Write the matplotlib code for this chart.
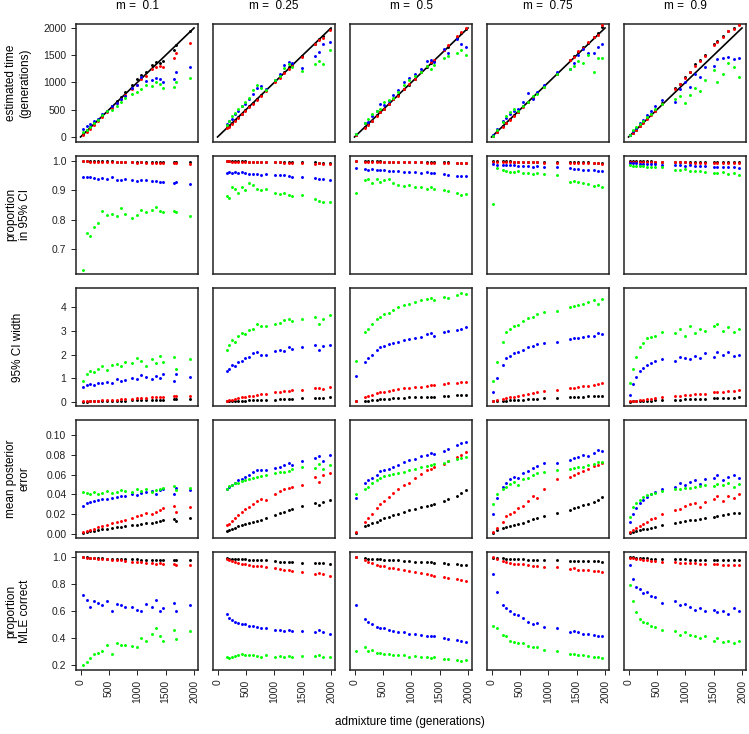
import matplotlib
matplotlib.use('Agg')
import matplotlib.pyplot as plt

plt.rcParams['font.family'] = ['Liberation Sans', 'DejaVu Sans']

W, H = 749, 734

m_values = ['0.1', '0.25', '0.5', '0.75', '0.9']
row_labels = ['estimated time\n(generations)', 'proportion\nin 95% CI', '95% CI width',
              'mean posterior\nerror', 'proportion\nMLE correct']
colors = ['black', '#FF0000', '#0000FF', '#00FF00']

# ---- admixture times (x) per column ----
t_m01 = [50, 110, 170, 230, 300, 380, 460, 550, 640, 720, 790, 910, 990, 1070, 1150, 1260, 1330, 1400, 1460, 1640, 1690, 1930]
t_m025 = [170, 200, 250, 300, 360, 430, 490, 560, 620, 690, 760, 850, 1020, 1100, 1180, 1260, 1320, 1490, 1720, 1790, 1860, 1980]
t_m05 = [30, 180, 230, 300, 400, 450, 520, 600, 680, 760, 880, 960, 1060, 1180, 1280, 1350, 1400, 1580, 1650, 1800, 1880, 1960]
t_m075 = [20, 100, 200, 260, 330, 400, 460, 550, 640, 730, 800, 930, 1150, 1380, 1450, 1530, 1620, 1700, 1800, 1880, 1950]
t_m09 = [30, 80, 130, 200, 260, 330, 400, 460, 590, 820, 900, 990, 1080, 1180, 1260, 1340, 1500, 1560, 1660, 1760, 1860, 1950]

# ---- m = 0.1 ----
est_m01_k = [60, 120, 180, 250, 310, 390, 480, 570, 660, 740, 830, 960, 1060, 1130, 1190, 1320, 1380, 1360, 1400, 1600, 1680, 1950]
est_m01_r = [40, 100, 150, 220, 290, 370, 450, 540, 620, 690, 770, 880, 950, 1060, 1120, 1240, 1290, 1310, 1280, 1450, 1540, 1720]
est_m01_b = [150, 210, 240, 290, 330, 420, 480, 560, 620, 700, 760, 890, 960, 1100, 1020, 1050, 1080, 1060, 1000, 1060, 1200, 1280]
est_m01_g = [90, 130, 190, 260, 320, 400, 470, 500, 570, 640, 720, 790, 830, 880, 960, 940, 1000, 980, 900, 920, 1000, 1080]
cov_m01_k = [1.0, 1.0, 1.0, 0.999, 1.0, 0.999, 0.999, 0.999, 0.998, 0.998, 0.998, 0.997, 0.997, 0.997, 0.996, 0.997, 0.996, 0.996, 0.996, 0.995, 0.995, 0.995]
cov_m01_r = [0.999, 0.999, 0.998, 0.998, 0.998, 0.998, 0.997, 0.997, 0.997, 0.996, 0.996, 0.995, 0.994, 0.995, 0.994, 0.994, 0.993, 0.994, 0.993, 0.992, 0.993, 0.991]
cov_m01_b = [0.946, 0.944, 0.945, 0.941, 0.94, 0.943, 0.938, 0.945, 0.937, 0.934, 0.939, 0.934, 0.931, 0.936, 0.935, 0.933, 0.931, 0.929, 0.928, 0.924, 0.927, 0.921]
cov_m01_g = [0.63, 0.755, 0.745, 0.775, 0.79, 0.83, 0.815, 0.82, 0.812, 0.84, 0.82, 0.808, 0.815, 0.835, 0.826, 0.835, 0.842, 0.83, 0.826, 0.83, 0.825, 0.812]
ciw_m01_k = [0.01, 0.01, 0.02, 0.02, 0.03, 0.03, 0.04, 0.05, 0.05, 0.06, 0.06, 0.07, 0.07, 0.08, 0.08, 0.09, 0.09, 0.1, 0.1, 0.11, 0.12, 0.12]
ciw_m01_r = [0.02, 0.03, 0.04, 0.05, 0.06, 0.07, 0.08, 0.09, 0.1, 0.11, 0.12, 0.13, 0.15, 0.16, 0.18, 0.19, 0.2, 0.21, 0.22, 0.24, 0.25, 0.26]
ciw_m01_b = [0.62, 0.72, 0.75, 0.7, 0.8, 0.78, 0.85, 0.82, 0.95, 0.88, 0.92, 1.0, 0.95, 1.15, 1.05, 0.95, 1.1, 1.0, 1.2, 0.9, 1.2, 1.05]
ciw_m01_g = [0.9, 1.2, 1.3, 1.25, 1.4, 1.5, 1.35, 1.55, 1.6, 1.5, 1.7, 1.65, 1.85, 1.75, 1.5, 1.8, 1.65, 1.95, 1.7, 1.9, 1.4, 1.8]
err_m01_k = [0.001, 0.002, 0.003, 0.003, 0.004, 0.005, 0.005, 0.006, 0.007, 0.007, 0.008, 0.009, 0.009, 0.01, 0.011, 0.011, 0.012, 0.013, 0.014, 0.015, 0.013, 0.016]
err_m01_r = [0.002, 0.003, 0.004, 0.005, 0.007, 0.008, 0.009, 0.011, 0.012, 0.013, 0.014, 0.016, 0.018, 0.019, 0.021, 0.02, 0.022, 0.024, 0.026, 0.028, 0.022, 0.027]
err_m01_b = [0.028, 0.031, 0.032, 0.033, 0.034, 0.035, 0.035, 0.036, 0.037, 0.038, 0.038, 0.04, 0.039, 0.041, 0.042, 0.043, 0.04, 0.044, 0.045, 0.04, 0.047, 0.044]
err_m01_g = [0.042, 0.041, 0.04, 0.042, 0.04, 0.041, 0.043, 0.041, 0.042, 0.044, 0.043, 0.042, 0.045, 0.043, 0.046, 0.042, 0.044, 0.045, 0.047, 0.049, 0.044, 0.047]
mle_m01_k = [1.0, 0.998, 0.995, 0.993, 0.99, 0.99, 0.988, 0.987, 0.986, 0.985, 0.985, 0.984, 0.982, 0.981, 0.98, 0.98, 0.979, 0.979, 0.978, 0.977, 0.976, 0.975]
mle_m01_r = [0.998, 0.996, 0.994, 0.99, 0.988, 0.985, 0.982, 0.98, 0.977, 0.975, 0.972, 0.966, 0.962, 0.96, 0.957, 0.955, 0.95, 0.952, 0.947, 0.945, 0.942, 0.94]
mle_m01_b = [0.72, 0.68, 0.63, 0.67, 0.66, 0.64, 0.67, 0.6, 0.65, 0.64, 0.63, 0.63, 0.61, 0.6, 0.65, 0.63, 0.68, 0.6, 0.62, 0.66, 0.6, 0.64]
mle_m01_g = [0.2, 0.22, 0.25, 0.28, 0.29, 0.3, 0.35, 0.28, 0.36, 0.35, 0.35, 0.34, 0.33, 0.4, 0.38, 0.43, 0.47, 0.41, 0.38, 0.46, 0.39, 0.45]

# ---- m = 0.25 ----
est_m025_k = [180, 210, 260, 310, 370, 430, 500, 560, 630, 700, 770, 860, 1020, 1110, 1200, 1290, 1330, 1480, 1710, 1800, 1850, 1990]
est_m025_r = [160, 190, 240, 290, 350, 420, 480, 550, 610, 680, 750, 840, 1010, 1090, 1170, 1250, 1310, 1470, 1700, 1780, 1820, 1960]
est_m025_b = [240, 290, 330, 420, 470, 560, 610, 700, 790, 900, 930, 880, 1040, 1150, 1320, 1380, 1350, 1260, 1480, 1560, 1700, 1740]
est_m025_g = [220, 300, 380, 440, 520, 560, 650, 720, 860, 950, 900, 870, 1050, 1120, 1260, 1330, 1290, 1210, 1340, 1400, 1330, 1600]
cov_m025_k = [1.0, 1.0, 0.999, 0.999, 0.999, 0.999, 0.999, 0.998, 0.998, 0.998, 0.998, 0.997, 0.997, 0.997, 0.996, 0.996, 0.996, 0.995, 0.995, 0.994, 0.994, 0.994]
cov_m025_r = [0.999, 0.999, 0.998, 0.998, 0.998, 0.998, 0.997, 0.997, 0.997, 0.997, 0.996, 0.996, 0.995, 0.995, 0.994, 0.994, 0.994, 0.992, 0.991, 0.992, 0.99, 0.99]
cov_m025_b = [0.96, 0.961, 0.958, 0.962, 0.958, 0.963, 0.959, 0.957, 0.956, 0.955, 0.953, 0.955, 0.954, 0.953, 0.952, 0.95, 0.946, 0.944, 0.941, 0.94, 0.94, 0.935]
cov_m025_g = [0.88, 0.875, 0.91, 0.905, 0.89, 0.91, 0.9, 0.925, 0.918, 0.905, 0.9, 0.905, 0.89, 0.888, 0.892, 0.885, 0.882, 0.886, 0.872, 0.865, 0.86, 0.862]
ciw_m025_k = [0.02, 0.03, 0.03, 0.04, 0.05, 0.05, 0.06, 0.07, 0.07, 0.08, 0.08, 0.09, 0.1, 0.11, 0.12, 0.12, 0.13, 0.15, 0.17, 0.18, 0.18, 0.2]
ciw_m025_r = [0.05, 0.08, 0.1, 0.13, 0.15, 0.19, 0.21, 0.24, 0.27, 0.3, 0.32, 0.35, 0.4, 0.43, 0.46, 0.48, 0.5, 0.52, 0.57, 0.6, 0.55, 0.62]
ciw_m025_b = [1.3, 1.4, 1.55, 1.5, 1.7, 1.75, 1.85, 1.9, 2.05, 2.1, 2.0, 2.0, 2.15, 2.2, 2.15, 2.3, 2.25, 2.3, 2.4, 2.2, 2.35, 2.42]
ciw_m025_g = [2.2, 2.4, 2.6, 2.55, 2.8, 2.9, 2.85, 3.05, 3.1, 3.3, 3.2, 3.2, 3.3, 3.35, 3.45, 3.5, 3.4, 3.5, 3.6, 3.3, 3.5, 3.65]
err_m025_k = [0.003, 0.004, 0.005, 0.006, 0.008, 0.009, 0.01, 0.011, 0.012, 0.013, 0.014, 0.016, 0.019, 0.021, 0.022, 0.024, 0.025, 0.028, 0.031, 0.029, 0.032, 0.034]
err_m025_r = [0.009, 0.01, 0.013, 0.016, 0.019, 0.022, 0.025, 0.027, 0.03, 0.033, 0.035, 0.034, 0.04, 0.043, 0.045, 0.047, 0.048, 0.05, 0.058, 0.053, 0.06, 0.062]
err_m025_b = [0.045, 0.048, 0.05, 0.052, 0.055, 0.056, 0.058, 0.06, 0.063, 0.065, 0.065, 0.065, 0.067, 0.068, 0.07, 0.072, 0.07, 0.074, 0.077, 0.079, 0.074, 0.08]
err_m025_g = [0.046, 0.049, 0.05, 0.052, 0.052, 0.054, 0.055, 0.056, 0.057, 0.058, 0.059, 0.06, 0.062, 0.063, 0.063, 0.064, 0.066, 0.068, 0.067, 0.071, 0.066, 0.07]
mle_m025_k = [0.99, 0.988, 0.985, 0.984, 0.983, 0.982, 0.982, 0.98, 0.979, 0.978, 0.976, 0.974, 0.968, 0.966, 0.964, 0.963, 0.962, 0.958, 0.955, 0.956, 0.954, 0.95]
mle_m025_r = [0.985, 0.975, 0.97, 0.96, 0.955, 0.95, 0.945, 0.94, 0.935, 0.932, 0.93, 0.925, 0.915, 0.91, 0.905, 0.9, 0.898, 0.885, 0.875, 0.88, 0.87, 0.86]
mle_m025_b = [0.575, 0.55, 0.53, 0.52, 0.51, 0.505, 0.5, 0.49, 0.485, 0.48, 0.47, 0.475, 0.46, 0.46, 0.45, 0.455, 0.45, 0.45, 0.44, 0.46, 0.44, 0.425]
mle_m025_g = [0.26, 0.25, 0.26, 0.265, 0.27, 0.28, 0.27, 0.275, 0.27, 0.265, 0.26, 0.27, 0.26, 0.265, 0.26, 0.265, 0.255, 0.265, 0.265, 0.275, 0.26, 0.255]

# ---- m = 0.5 ----
est_m05_k = [30, 180, 230, 300, 400, 460, 520, 600, 690, 770, 880, 960, 1060, 1190, 1290, 1360, 1400, 1590, 1660, 1820, 1900, 1990]
est_m05_r = [30, 170, 220, 300, 390, 450, 520, 610, 690, 760, 880, 970, 1060, 1200, 1300, 1370, 1420, 1600, 1680, 1850, 1930, 2000]
est_m05_b = [60, 250, 280, 380, 480, 600, 580, 660, 770, 860, 1000, 1080, 1150, 1250, 1400, 1420, 1380, 1620, 1550, 1800, 1700, 1650]
est_m05_g = [50, 260, 330, 420, 480, 520, 640, 680, 720, 820, 950, 1050, 1120, 1200, 1300, 1250, 1320, 1450, 1480, 1550, 1600, 1500]
cov_m05_k = [1.0, 1.0, 0.999, 0.999, 0.999, 0.999, 0.998, 0.998, 0.998, 0.998, 0.997, 0.997, 0.997, 0.996, 0.996, 0.996, 0.995, 0.995, 0.995, 0.994, 0.994, 0.994]
cov_m05_r = [0.999, 0.998, 0.998, 0.998, 0.997, 0.998, 0.997, 0.997, 0.996, 0.996, 0.996, 0.995, 0.995, 0.995, 0.994, 0.994, 0.994, 0.993, 0.993, 0.992, 0.992, 0.992]
cov_m05_b = [0.975, 0.974, 0.97, 0.973, 0.97, 0.968, 0.969, 0.966, 0.967, 0.965, 0.963, 0.962, 0.964, 0.96, 0.961, 0.958, 0.958, 0.955, 0.954, 0.95, 0.948, 0.949]
cov_m05_g = [0.89, 0.935, 0.94, 0.925, 0.938, 0.93, 0.935, 0.94, 0.925, 0.92, 0.915, 0.92, 0.912, 0.91, 0.905, 0.912, 0.905, 0.9, 0.898, 0.89, 0.885, 0.888]
ciw_m05_k = [0.02, 0.05, 0.06, 0.08, 0.1, 0.11, 0.12, 0.13, 0.15, 0.16, 0.18, 0.19, 0.2, 0.21, 0.22, 0.23, 0.23, 0.26, 0.26, 0.28, 0.29, 0.3]
ciw_m05_r = [0.05, 0.2, 0.25, 0.3, 0.36, 0.4, 0.44, 0.47, 0.5, 0.53, 0.58, 0.6, 0.62, 0.65, 0.68, 0.7, 0.71, 0.75, 0.78, 0.81, 0.83, 0.86]
ciw_m05_b = [1.1, 1.7, 1.85, 2.0, 2.2, 2.3, 2.35, 2.45, 2.5, 2.55, 2.6, 2.65, 2.7, 2.75, 2.85, 2.9, 2.8, 2.95, 3.0, 3.05, 3.1, 3.15]
ciw_m05_g = [1.75, 2.95, 3.1, 3.3, 3.5, 3.6, 3.7, 3.75, 3.9, 4.0, 4.1, 4.15, 4.2, 4.3, 4.35, 4.4, 4.3, 4.45, 4.4, 4.5, 4.6, 4.55]
err_m05_k = [0.001, 0.008, 0.009, 0.011, 0.012, 0.014, 0.016, 0.017, 0.019, 0.02, 0.022, 0.024, 0.025, 0.027, 0.028, 0.029, 0.03, 0.033, 0.035, 0.038, 0.041, 0.044]
err_m05_r = [0.002, 0.012, 0.016, 0.02, 0.026, 0.03, 0.033, 0.037, 0.041, 0.045, 0.05, 0.052, 0.057, 0.061, 0.065, 0.066, 0.068, 0.071, 0.074, 0.078, 0.08, 0.083]
err_m05_b = [0.036, 0.052, 0.055, 0.057, 0.06, 0.064, 0.065, 0.066, 0.068, 0.07, 0.073, 0.075, 0.076, 0.079, 0.08, 0.082, 0.081, 0.084, 0.086, 0.09, 0.092, 0.093]
err_m05_g = [0.04, 0.045, 0.048, 0.052, 0.055, 0.057, 0.059, 0.06, 0.061, 0.062, 0.063, 0.065, 0.066, 0.068, 0.069, 0.07, 0.071, 0.072, 0.074, 0.076, 0.077, 0.078]
mle_m05_k = [1.0, 0.99, 0.988, 0.987, 0.984, 0.982, 0.98, 0.978, 0.976, 0.974, 0.97, 0.968, 0.966, 0.964, 0.962, 0.96, 0.958, 0.952, 0.95, 0.946, 0.944, 0.94]
mle_m05_r = [1.0, 0.975, 0.965, 0.955, 0.94, 0.935, 0.93, 0.92, 0.915, 0.91, 0.9, 0.895, 0.89, 0.88, 0.87, 0.865, 0.862, 0.85, 0.845, 0.835, 0.83, 0.82]
mle_m05_b = [0.64, 0.54, 0.52, 0.5, 0.48, 0.475, 0.47, 0.46, 0.45, 0.445, 0.44, 0.43, 0.425, 0.42, 0.415, 0.41, 0.41, 0.4, 0.39, 0.385, 0.38, 0.37]
mle_m05_g = [0.3, 0.33, 0.3, 0.31, 0.29, 0.29, 0.28, 0.28, 0.27, 0.275, 0.27, 0.26, 0.265, 0.26, 0.255, 0.25, 0.255, 0.245, 0.24, 0.235, 0.23, 0.235]

# ---- m = 0.75 ----
est_m075_k = [20, 100, 200, 260, 330, 400, 460, 560, 650, 730, 810, 940, 1160, 1420, 1480, 1560, 1650, 1720, 1830, 1900, 2020]
est_m075_r = [20, 90, 190, 260, 320, 390, 450, 550, 640, 720, 800, 920, 1150, 1420, 1470, 1570, 1640, 1740, 1840, 1880, 2050]
est_m075_b = [30, 150, 300, 340, 420, 480, 520, 650, 800, 700, 820, 960, 1200, 1250, 1350, 1500, 1620, 1550, 1550, 1650, 1700]
est_m075_g = [20, 130, 280, 380, 450, 520, 470, 560, 650, 760, 780, 920, 1150, 1250, 1300, 1400, 1350, 1500, 1200, 1450, 1450]
cov_m075_k = [1.0, 0.999, 0.999, 0.999, 0.999, 0.998, 0.998, 0.998, 0.998, 0.997, 0.997, 0.997, 0.996, 0.996, 0.996, 0.995, 0.995, 0.995, 0.994, 0.994, 0.994]
cov_m075_r = [0.997, 0.998, 0.997, 0.997, 0.996, 0.996, 0.996, 0.995, 0.996, 0.995, 0.995, 0.994, 0.994, 0.994, 0.993, 0.993, 0.993, 0.992, 0.992, 0.992, 0.991]
cov_m075_b = [0.99, 0.988, 0.987, 0.985, 0.986, 0.985, 0.983, 0.984, 0.983, 0.981, 0.982, 0.98, 0.98, 0.975, 0.972, 0.974, 0.97, 0.971, 0.968, 0.967, 0.966]
cov_m075_g = [0.853, 0.975, 0.968, 0.965, 0.964, 0.962, 0.965, 0.96, 0.958, 0.955, 0.96, 0.957, 0.953, 0.93, 0.932, 0.928, 0.925, 0.922, 0.915, 0.918, 0.912]
ciw_m075_k = [0.02, 0.04, 0.05, 0.06, 0.07, 0.08, 0.09, 0.1, 0.11, 0.12, 0.13, 0.15, 0.17, 0.2, 0.21, 0.22, 0.23, 0.24, 0.25, 0.26, 0.27]
ciw_m075_r = [0.03, 0.08, 0.12, 0.16, 0.2, 0.23, 0.26, 0.3, 0.34, 0.37, 0.4, 0.45, 0.5, 0.58, 0.6, 0.63, 0.66, 0.69, 0.72, 0.75, 0.78]
ciw_m075_b = [0.4, 1.0, 1.55, 1.85, 1.95, 2.05, 2.1, 2.2, 2.3, 2.35, 2.45, 2.5, 2.55, 2.65, 2.7, 2.72, 2.75, 2.78, 2.8, 2.9, 2.85]
ciw_m075_g = [0.9, 1.7, 2.55, 2.95, 3.1, 3.2, 3.25, 3.4, 3.55, 3.6, 3.7, 3.8, 3.85, 4.0, 4.05, 4.1, 4.15, 4.2, 4.3, 4.15, 4.35]
err_m075_k = [0.001, 0.004, 0.006, 0.007, 0.008, 0.009, 0.01, 0.011, 0.013, 0.015, 0.016, 0.018, 0.021, 0.024, 0.026, 0.027, 0.029, 0.03, 0.032, 0.034, 0.037]
err_m075_r = [0.002, 0.006, 0.012, 0.018, 0.02, 0.022, 0.026, 0.028, 0.033, 0.038, 0.036, 0.045, 0.056, 0.058, 0.06, 0.062, 0.064, 0.066, 0.069, 0.07, 0.072]
err_m075_b = [0.02, 0.036, 0.048, 0.052, 0.056, 0.058, 0.057, 0.062, 0.064, 0.067, 0.069, 0.072, 0.072, 0.075, 0.077, 0.078, 0.08, 0.079, 0.082, 0.085, 0.084]
err_m075_g = [0.03, 0.04, 0.045, 0.048, 0.051, 0.053, 0.05, 0.056, 0.057, 0.06, 0.062, 0.063, 0.065, 0.066, 0.067, 0.068, 0.068, 0.07, 0.071, 0.073, 0.073]
mle_m075_k = [0.995, 0.993, 0.99, 0.988, 0.987, 0.985, 0.984, 0.982, 0.98, 0.979, 0.978, 0.976, 0.975, 0.972, 0.972, 0.971, 0.97, 0.969, 0.968, 0.967, 0.966]
mle_m075_r = [1.0, 0.985, 0.97, 0.96, 0.955, 0.95, 0.948, 0.945, 0.94, 0.935, 0.93, 0.926, 0.922, 0.91, 0.915, 0.905, 0.905, 0.9, 0.895, 0.893, 0.89]
mle_m075_b = [0.87, 0.74, 0.64, 0.62, 0.6, 0.58, 0.57, 0.55, 0.52, 0.5, 0.51, 0.48, 0.47, 0.44, 0.45, 0.44, 0.43, 0.43, 0.42, 0.41, 0.415]
mle_m075_g = [0.49, 0.47, 0.42, 0.41, 0.38, 0.37, 0.365, 0.36, 0.34, 0.33, 0.335, 0.31, 0.3, 0.28, 0.28, 0.275, 0.27, 0.265, 0.26, 0.255, 0.25]

# ---- m = 0.9 ----
est_m09_k = [30, 80, 130, 200, 270, 340, 420, 480, 620, 900, 980, 1100, 1200, 1330, 1420, 1500, 1700, 1770, 1860, 1950, 2000, 2080]
est_m09_r = [30, 80, 130, 200, 260, 330, 410, 470, 600, 880, 970, 1080, 1200, 1300, 1400, 1480, 1680, 1740, 1840, 1940, 1980, 2050]
est_m09_b = [40, 110, 160, 260, 320, 400, 480, 560, 680, 640, 880, 1000, 920, 1150, 1100, 1290, 1300, 1440, 1450, 1470, 1440, 1450]
est_m09_g = [30, 120, 180, 230, 300, 360, 430, 520, 600, 700, 750, 620, 770, 900, 850, 1040, 1230, 1000, 1150, 1360, 1280, 1100]
cov_m09_k = [1.0, 1.0, 0.999, 0.999, 0.999, 0.999, 0.999, 0.998, 0.998, 0.998, 0.998, 0.997, 0.997, 0.997, 0.996, 0.996, 0.996, 0.996, 0.995, 0.995, 0.995, 0.995]
cov_m09_r = [0.997, 0.997, 0.997, 0.997, 0.996, 0.996, 0.996, 0.996, 0.995, 0.995, 0.995, 0.995, 0.994, 0.994, 0.994, 0.994, 0.993, 0.993, 0.993, 0.993, 0.992, 0.992]
cov_m09_b = [0.994, 0.993, 0.992, 0.991, 0.99, 0.99, 0.989, 0.989, 0.988, 0.986, 0.985, 0.984, 0.985, 0.983, 0.982, 0.982, 0.98, 0.981, 0.979, 0.978, 0.979, 0.977]
cov_m09_g = [0.985, 0.984, 0.983, 0.982, 0.982, 0.98, 0.981, 0.978, 0.98, 0.97, 0.968, 0.972, 0.966, 0.967, 0.965, 0.963, 0.958, 0.96, 0.962, 0.955, 0.958, 0.952]
ciw_m09_k = [0.01, 0.02, 0.03, 0.04, 0.04, 0.05, 0.06, 0.07, 0.08, 0.1, 0.1, 0.11, 0.12, 0.12, 0.13, 0.14, 0.15, 0.15, 0.16, 0.17, 0.18, 0.19]
ciw_m09_r = [0.02, 0.04, 0.06, 0.08, 0.1, 0.12, 0.14, 0.16, 0.2, 0.25, 0.27, 0.28, 0.3, 0.32, 0.33, 0.35, 0.4, 0.42, 0.43, 0.45, 0.47, 0.5]
ciw_m09_b = [0.3, 0.75, 1.05, 1.3, 1.45, 1.55, 1.65, 1.75, 1.8, 1.75, 1.9, 1.85, 1.8, 1.95, 1.85, 2.05, 1.9, 2.1, 2.0, 2.1, 1.95, 2.0]
ciw_m09_g = [0.8, 1.4, 1.9, 2.3, 2.5, 2.7, 2.75, 2.8, 2.95, 2.9, 3.1, 2.8, 3.2, 2.9, 3.1, 3.0, 3.2, 3.3, 3.0, 3.15, 2.95, 3.1]
err_m09_k = [0.001, 0.002, 0.003, 0.004, 0.005, 0.005, 0.006, 0.007, 0.009, 0.011, 0.012, 0.013, 0.014, 0.014, 0.015, 0.016, 0.017, 0.018, 0.019, 0.02, 0.021, 0.021]
err_m09_r = [0.002, 0.004, 0.006, 0.008, 0.01, 0.012, 0.015, 0.016, 0.02, 0.024, 0.025, 0.028, 0.03, 0.031, 0.027, 0.032, 0.035, 0.038, 0.033, 0.038, 0.036, 0.04]
err_m09_b = [0.012, 0.02, 0.026, 0.031, 0.034, 0.037, 0.04, 0.042, 0.046, 0.048, 0.052, 0.05, 0.053, 0.055, 0.051, 0.056, 0.057, 0.06, 0.055, 0.058, 0.06, 0.057]
err_m09_g = [0.017, 0.027, 0.031, 0.034, 0.037, 0.039, 0.04, 0.041, 0.043, 0.045, 0.046, 0.047, 0.047, 0.048, 0.049, 0.05, 0.049, 0.051, 0.05, 0.052, 0.048, 0.051]
mle_m09_k = [1.0, 0.997, 0.995, 0.993, 0.992, 0.99, 0.988, 0.987, 0.986, 0.984, 0.983, 0.982, 0.981, 0.98, 0.979, 0.978, 0.977, 0.977, 0.976, 0.975, 0.975, 0.974]
mle_m09_r = [0.995, 0.99, 0.985, 0.982, 0.978, 0.975, 0.972, 0.97, 0.965, 0.96, 0.958, 0.955, 0.953, 0.955, 0.95, 0.948, 0.947, 0.945, 0.943, 0.944, 0.94, 0.94]
mle_m09_b = [0.94, 0.84, 0.78, 0.76, 0.73, 0.74, 0.71, 0.7, 0.66, 0.67, 0.64, 0.65, 0.63, 0.61, 0.62, 0.6, 0.61, 0.59, 0.6, 0.58, 0.62, 0.6]
mle_m09_g = [0.79, 0.67, 0.59, 0.54, 0.52, 0.51, 0.49, 0.48, 0.46, 0.45, 0.42, 0.44, 0.42, 0.41, 0.4, 0.41, 0.38, 0.4, 0.37, 0.38, 0.36, 0.38]

times = [t_m01, t_m025, t_m05, t_m075, t_m09]
table = [
    [[est_m01_k, est_m01_r, est_m01_b, est_m01_g], [est_m025_k, est_m025_r, est_m025_b, est_m025_g],
     [est_m05_k, est_m05_r, est_m05_b, est_m05_g], [est_m075_k, est_m075_r, est_m075_b, est_m075_g],
     [est_m09_k, est_m09_r, est_m09_b, est_m09_g]],
    [[cov_m01_k, cov_m01_r, cov_m01_b, cov_m01_g], [cov_m025_k, cov_m025_r, cov_m025_b, cov_m025_g],
     [cov_m05_k, cov_m05_r, cov_m05_b, cov_m05_g], [cov_m075_k, cov_m075_r, cov_m075_b, cov_m075_g],
     [cov_m09_k, cov_m09_r, cov_m09_b, cov_m09_g]],
    [[ciw_m01_k, ciw_m01_r, ciw_m01_b, ciw_m01_g], [ciw_m025_k, ciw_m025_r, ciw_m025_b, ciw_m025_g],
     [ciw_m05_k, ciw_m05_r, ciw_m05_b, ciw_m05_g], [ciw_m075_k, ciw_m075_r, ciw_m075_b, ciw_m075_g],
     [ciw_m09_k, ciw_m09_r, ciw_m09_b, ciw_m09_g]],
    [[err_m01_k, err_m01_r, err_m01_b, err_m01_g], [err_m025_k, err_m025_r, err_m025_b, err_m025_g],
     [err_m05_k, err_m05_r, err_m05_b, err_m05_g], [err_m075_k, err_m075_r, err_m075_b, err_m075_g],
     [err_m09_k, err_m09_r, err_m09_b, err_m09_g]],
    [[mle_m01_k, mle_m01_r, mle_m01_b, mle_m01_g], [mle_m025_k, mle_m025_r, mle_m025_b, mle_m025_g],
     [mle_m05_k, mle_m05_r, mle_m05_b, mle_m05_g], [mle_m075_k, mle_m075_r, mle_m075_b, mle_m075_g],
     [mle_m09_k, mle_m09_r, mle_m09_b, mle_m09_g]],
]

ylims = [(-92, 2073), (0.616, 1.017), (-0.17, 4.81), (-0.004, 0.1152), (0.161, 1.037)]
yticks = [[0, 500, 1000, 1500, 2000], [0.7, 0.8, 0.9, 1.0], [0, 1, 2, 3, 4],
          [0.0, 0.02, 0.04, 0.06, 0.08, 0.10], [0.2, 0.4, 0.6, 0.8, 1.0]]
yfmt = ['{:.0f}', '{:.1f}', '{:.0f}', '{:.2f}', '{:.1f}']
xticks = [0, 500, 1000, 1500, 2000]

fig = plt.figure(figsize=(W / 100, H / 100), dpi=100)

col_left = [76, 213, 350, 487, 624]
row_top = [24, 156, 288, 420, 552]
pw, ph = 122, 118

for r in range(5):
    for c in range(5):
        ax = fig.add_axes([col_left[c] / W, 1 - (row_top[r] + ph) / H, pw / W, ph / H])
        if r == 0:
            ax.plot([0, 2000], [0, 2000], color='black', lw=1.2, zorder=1)
        for s in range(4):
            ax.scatter(times[c], table[r][c][s], s=4.5, color=colors[s], linewidths=0, zorder=2 + s)
        ax.set_xlim(-80, 2070)
        ax.set_ylim(*ylims[r])
        for sp in ax.spines.values():
            sp.set_linewidth(1.1)
            sp.set_color('#222222')
        ax.tick_params(direction='out', length=3.5, width=0.7, labelsize=7.5, colors='#222222')
        if c == 0:
            ax.set_yticks(yticks[r])
            ax.set_yticklabels([yfmt[r].format(v) for v in yticks[r]])
        else:
            ax.set_yticks([])
        if r == 4:
            ax.set_xticks(xticks)
            ax.set_xticklabels([str(v) for v in xticks], rotation=90)
        else:
            ax.set_xticks([])
        if r == 0:
            ax.set_title('m =  ' + m_values[c], fontsize=8.5, pad=11)

label_y = [83, 214, 347, 479, 611]
for r in range(5):
    fig.text(18 / W, 1 - label_y[r] / H, row_labels[r], rotation=90, ha='center', va='center',
             fontsize=8.5, multialignment='center')

fig.text(410 / W, 1 - 722 / H, 'admixture time (generations)', ha='center', va='center', fontsize=8.5)

plt.savefig('out.png', dpi=100)
